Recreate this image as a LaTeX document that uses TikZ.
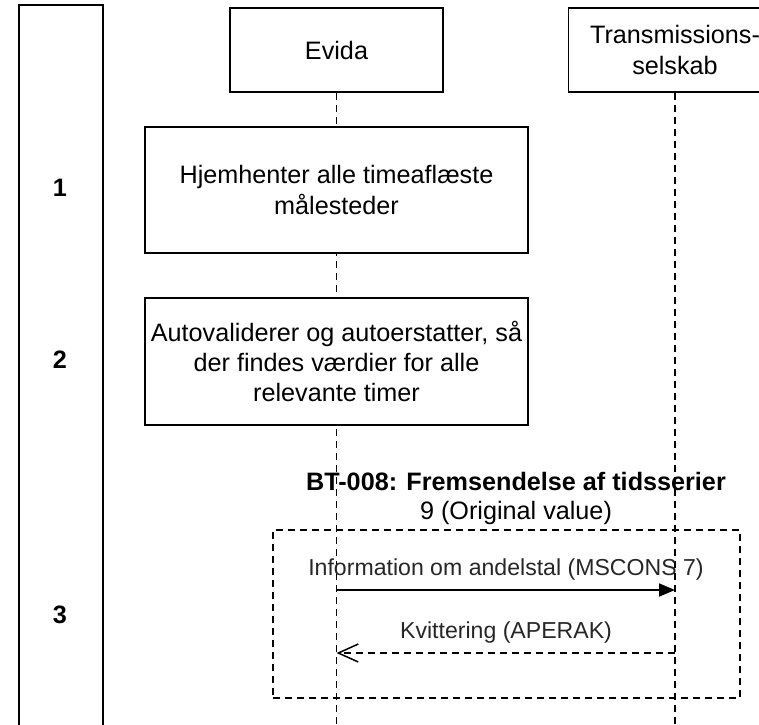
\documentclass[tikz,border=0pt]{standalone}
\usepackage{fontspec}
\setmainfont{Liberation Sans}
\usetikzlibrary{arrows.meta}
\begin{document}
\begin{tikzpicture}[x=1pt,y=-1pt,
  box/.style={draw=black, line width=1.8pt, fill=white, inner sep=0pt, align=center,
    font=\fontsize{25.2}{30.2}\selectfont},
  life/.style={draw=black, line width=1.5pt, dash pattern=on 7pt off 5pt},
  lbl/.style={font=\fontsize{23.1}{27.7}\selectfont, text=black!85, inner sep=0pt},
  ttl/.style={font=\fontsize{25.2}{30.2}\selectfont, inner sep=0pt},
  num/.style={font=\bfseries\fontsize{25.2}{30.2}\selectfont, inner sep=0pt},
  grpframe/.style={draw=black, line width=1.5pt, dash pattern=on 7pt off 5pt, inner sep=0pt},
  msg/.style={draw=black, line width=1.8pt, -{Triangle[length=16pt,width=13pt]}},
  reply/.style={draw=black, line width=1.5pt, dash pattern=on 7pt off 5pt,
    -{Straight Barb[length=20pt,width=18pt,line width=1.5pt]}}
]
\useasboundingbox (0,0) rectangle (759,724);
\clip (0,0) rectangle (759,724);

% left lane
\draw[line width=1.8pt] (19,740) -- (19,5) -- (103,5) -- (103,740);
\node[num] (n1) at (60,188) {1};
\node[num] (n2) at (60,360) {2};
\node[num] (n3) at (60,615) {3};

% participants
\node[box, minimum width=213pt, minimum height=84pt] (evida) at (336.5,50) {Evida};
\node[box, minimum width=213pt, minimum height=84pt] (trans) at (675,50) {Transmissions-\\selskab};
\coordinate (evidaEnd) at (336.5,740);
\coordinate (transEnd) at (675,740);

% lifelines
\draw[life] (evida.south) -- (evidaEnd);
\draw[life] (trans.south) -- (transEnd);

% steps
\node[box, minimum width=383pt, minimum height=126pt] (step1) at (336.5,190)
  {Hjemhenter alle timeaflæste\\målesteder};
\node[box, minimum width=383pt, minimum height=127pt] (step2) at (336.5,361.5)
  {Autovaliderer og autoerstatter, så\\der findes værdier for alle\\relevante timer};

% group
\node[ttl, font=\bfseries\fontsize{25.2}{30.2}\selectfont] (title) at (516,481) {BT-008: Fremsendelse af tidsserier};
\node[ttl] (sub) at (516,513) {9 (Original value)};
\node[grpframe, minimum width=467pt, minimum height=168pt] (grp) at (506.5,614) {};

% messages
\coordinate (m1s) at (336.5,590);
\coordinate (m1e) at (675,590);
\coordinate (m2s) at (675,653);
\coordinate (m2e) at (336.5,653);
\draw[msg] (m1s) -- (m1e);
\draw[reply] (m2s) -- (m2e);
\node[lbl] (l1) at (506,570) {Information om andelstal (MSCONS 7)};
\node[lbl] (l2) at (506,633) {Kvittering (APERAK)};
\end{tikzpicture}
\end{document}
